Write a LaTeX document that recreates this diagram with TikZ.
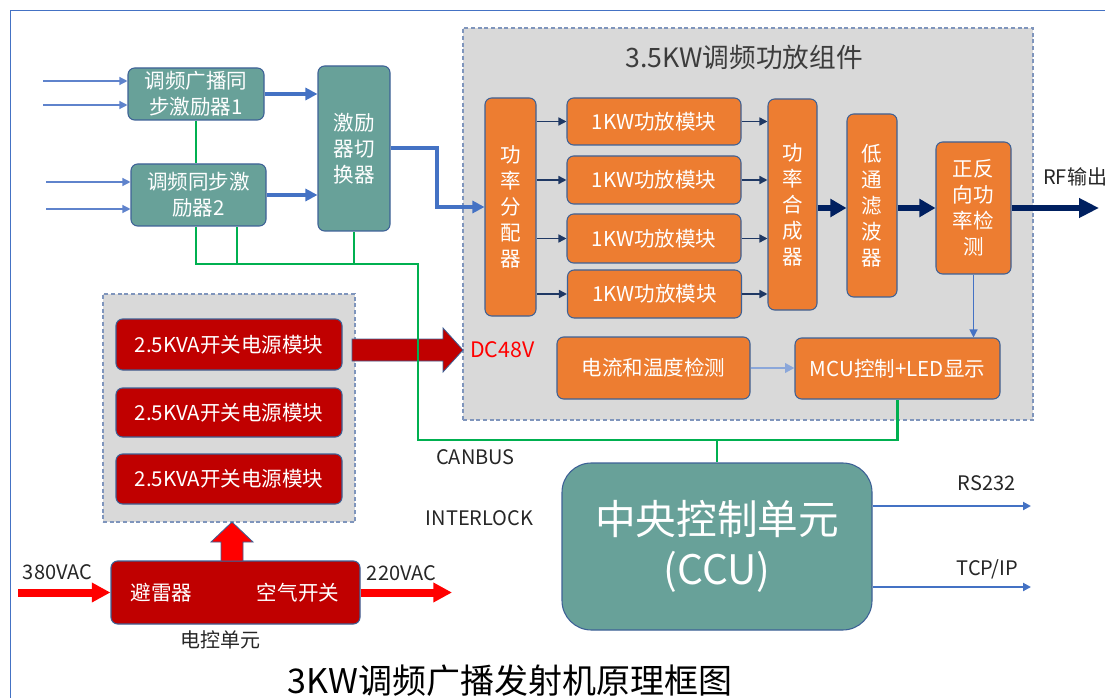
\documentclass[tikz,border=0pt]{standalone}
\usepackage{fontspec}
\setmainfont{Noto Sans CJK SC}
\usetikzlibrary{arrows.meta,calc}

\definecolor{boxTeal}{HTML}{68A199}
\definecolor{boxOrange}{HTML}{ED7D31}
\definecolor{boxRed}{HTML}{C00000}
\definecolor{edgeBlue}{HTML}{3D6196}
\definecolor{groupGray}{HTML}{D9D9D9}
\definecolor{groupEdge}{HTML}{7F95BC}
\definecolor{lineBlue}{HTML}{4472C4}
\definecolor{inBlue}{HTML}{5F83CC}
\definecolor{lightBlue}{HTML}{8BA7DA}
\definecolor{navy}{HTML}{002060}
\definecolor{navyThin}{HTML}{1F3864}
\definecolor{busGreen}{HTML}{00B050}
\definecolor{hotRed}{HTML}{FF0000}
\definecolor{labelGray}{HTML}{262626}

\newcommand\bxfont{\fontsize{15.4pt}{19.5pt}\selectfont}
\newcommand\lblfont{\fontsize{15pt}{18pt}\selectfont}
\newcommand\dcfont{\fontsize{16pt}{19pt}\selectfont}
\newcommand\ttlfont{\fontsize{20pt}{24pt}\selectfont}
\newcommand\ccufont{\fontsize{30.5pt}{38pt}\selectfont}
\newcommand\bigttlfont{\fontsize{25.5pt}{30pt}\selectfont}

\tikzset{
  base/.style={draw=edgeBlue, line width=0.8pt, rounded corners=5pt, inner sep=0pt,
    align=center, text=white, font=\bxfont},
  tealbox/.style={base, fill=boxTeal},
  orbox/.style={base, fill=boxOrange},
  redbox/.style={base, fill=boxRed},
  sz/.style 2 args={minimum width=#1, minimum height=#2},
  group/.style={draw=groupEdge, dashed, dash pattern=on 3pt off 2pt, fill=groupGray,
    line width=0.8pt, inner sep=0pt},
  lbl/.style={text=labelGray, font=\lblfont, inner sep=0pt},
  thinarrow/.style={draw=inBlue, line width=0.9pt, -{Triangle[length=6pt,width=6pt]}},
  navyarrow/.style={draw=navyThin, line width=1.1pt, -{Triangle[length=6pt,width=6pt]}},
  softarrow/.style={draw=lightBlue, line width=1.8pt, -{Triangle[length=7pt,width=7pt]}},
  fatblue/.style={draw=lineBlue, line width=3pt, -{Triangle[length=9pt,width=9pt]}},
  fatnavy/.style={draw=navy, line width=3.8pt, -{Triangle[length=12pt,width=13pt]}},
  fatred/.style={draw=hotRed, line width=6pt, -{Triangle[length=14pt,width=14pt]}},
  outblue/.style={draw=lineBlue, line width=2pt, -{Triangle[length=6pt,width=6pt]}},
  busline/.style={draw=busGreen, line width=2.2pt},
  blockarrow/.style={draw=edgeBlue, line width=0.6pt, line join=miter},
}

\begin{document}
\begin{tikzpicture}[x=0.75pt,y=-0.75pt]
\useasboundingbox (0,0) rectangle (1105,698);

% outer frame
\draw[lineBlue, line width=1pt] (10.5,700) -- (10.5,10.5) -- (1110,10.5);

% grouped areas
\node[group, sz={427.5pt}{294pt}] (amp) at (748,224) {};
\node[group, sz={189pt}{171pt}] (psugrp) at (229,408) {};
\node[lbl, font=\ttlfont, text=labelGray!90] (amptitle) at (744,57) {3.5KW调频功放组件};

% exciters and switch
\node[tealbox, sz={102pt}{39pt}] (ex1) at (196,94) {调频广播同\\步激励器1};
\node[tealbox, sz={101.25pt}{46.5pt}] (ex2) at (198.5,195) {调频同步激\\励器2};
\node[tealbox, sz={54pt}{123.75pt}] (sw) at (354,148.5) {激励\\器切\\换器};

% amplifier chain
\node[orbox, sz={38.25pt}{163.5pt}] (div) at (510.5,207) {功\\率\\分\\配\\器};
\node[orbox, sz={130.5pt}{35.25pt}] (m1) at (654,121.5) {1KW功放模块};
\node[orbox, sz={130.5pt}{36pt}] (m2) at (654,180) {1KW功放模块};
\node[orbox, sz={130.5pt}{36.75pt}] (m3) at (654,238.5) {1KW功放模块};
\node[orbox, sz={130.5pt}{36pt}] (m4) at (654.5,294) {1KW功放模块};
\node[orbox, sz={36.75pt}{158.25pt}] (comb) at (792.5,204.5) {功\\率\\合\\成\\器};
\node[orbox, sz={37.5pt}{137.25pt}] (lpf) at (872,205.5) {低\\通\\滤\\波\\器};
\node[orbox, sz={56.25pt}{99pt}] (det) at (973.5,208) {正反\\向功\\率检\\测};
\node[orbox, sz={144.75pt}{46.5pt}] (cur) at (653.5,368) {电流和温度检测};
\node[orbox, sz={153.75pt}{45.75pt}] (mcu) at (897.5,368.5) {MCU控制+LED显示};

% power supplies
\node[redbox, sz={169.5pt}{38.25pt}] (psu1) at (229,344.5) {2.5KVA开关电源模块};
\node[redbox, sz={169.5pt}{36.75pt}] (psu2) at (229,412.5) {2.5KVA开关电源模块};
\node[redbox, sz={169.5pt}{37.5pt}] (psu3) at (229,479) {2.5KVA开关电源模块};
\node[redbox, sz={186.75pt}{47.25pt}] (ctrl) at (235.5,592.5) {};
\node[text=white, font=\bxfont, inner sep=0pt] (spd) at (161.5,593) {避雷器};
\node[text=white, font=\bxfont, inner sep=0pt] (brk) at (298,593) {空气开关};

% central control unit
\node[tealbox, rounded corners=22pt, sz={232.5pt}{125.25pt}, font=\ccufont] (ccu) at (717,546.5) {中央控制单元\\(CCU)};

% exciter inputs
\coordinate (inA) at (43,81);
\coordinate (inB) at (43,105);
\coordinate (inC) at (46,182);
\coordinate (inD) at (46,209);
\draw[thinarrow] (inA) -- (ex1.west |- inA);
\draw[thinarrow] (inB) -- (ex1.west |- inB);
\draw[thinarrow] (inC) -- (ex2.west |- inC);
\draw[thinarrow] (inD) -- (ex2.west |- inD);

% RF path
\draw[fatblue] (ex1.east) -- (sw.west |- ex1.east);
\draw[fatblue] (ex2.east) -- (sw.west |- ex2.east);
\draw[fatblue] (sw.east) -- ++(46,0) |- (div.west);
\foreach \m in {m1,m2,m3,m4}{
  \draw[navyarrow] (div.east |- \m.west) -- (\m.west);
  \draw[navyarrow] (\m.east) -- (comb.west |- \m.east);
}
\draw[fatnavy] (comb.east |- det.west) -- (lpf.west |- det.west);
\draw[fatnavy] (lpf.east |- det.west) -- (det.west);
\coordinate (rfout) at (1099,208);
\draw[fatnavy, -{Triangle[length=15pt,width=14pt]}] (det.east) -- (rfout);
\node[lbl, anchor=west] (rflbl) at (1043,177) {RF输出};

% monitoring
\draw[thinarrow, draw=lineBlue] (det.south) -- (det.south |- mcu.north);
\draw[softarrow] (cur.east) -- (mcu.west |- cur.east);

% DC supply arrow
\coordinate (dcTip) at (463,350);
\fill[boxRed, blockarrow] (dcTip) -- ++(-20,-22) -- ++(0,11) -- ++(-91,0) -- ++(0,22)
  -- ++(91,0) -- ++(0,11) -- cycle;
\node[text=hotRed, font=\dcfont, inner sep=0pt, anchor=west] (dc) at (470,350) {DC48V};

% mains supply
\coordinate (upTip) at (232,522);
\fill[hotRed, blockarrow] (upTip) -- ++(21,20) -- ++(-10,0) -- ++(0,19) -- ++(-22,0)
  -- ++(0,-19) -- ++(-10,0) -- cycle;
\coordinate (acIn) at (18,592.5);
\coordinate (acOut) at (452,592.5);
\draw[fatred] (acIn) -- (ctrl.west);
\draw[fatred] (ctrl.east) -- (acOut);
\node[lbl] (v380) at (57.5,572) {380VAC};
\node[lbl] (v220) at (401.5,573) {220VAC};
\node[lbl] (ctrllbl) at (220.5,640) {电控单元};

% control bus
\coordinate (bus) at (418,264);
\coordinate (can) at (418,440);
\coordinate (tap) at (237,0);
\draw[busline] (ex1.south) -- (ex1.south |- ex2.north);
\draw[busline] (ex1.south |- ex2.south) -- (ex1.south |- bus) -- (bus) -- (can) -| (mcu.south);
\draw[busline] (tap |- ex2.south) -- (tap |- bus);
\draw[busline] (sw.south) -- (sw.south |- bus);
\draw[busline] (ccu.north) -- (ccu.north |- can);
\node[lbl] (canlbl) at (475.5,457) {CANBUS};
\node[lbl] (intlk) at (479.5,518) {INTERLOCK};

% external interfaces
\coordinate (rsEnd) at (1031,506);
\coordinate (tcpEnd) at (1031,587);
\draw[outblue] (ccu.east |- rsEnd) -- (rsEnd);
\draw[outblue] (ccu.east |- tcpEnd) -- (tcpEnd);
\node[lbl] (rslbl) at (986.5,483) {RS232};
\node[lbl] (tcplbl) at (987.5,569) {TCP/IP};

% caption
\node[text=black, font=\bigttlfont, inner sep=0pt] (caption) at (510,681) {3KW调频广播发射机原理框图};
\end{tikzpicture}
\end{document}
